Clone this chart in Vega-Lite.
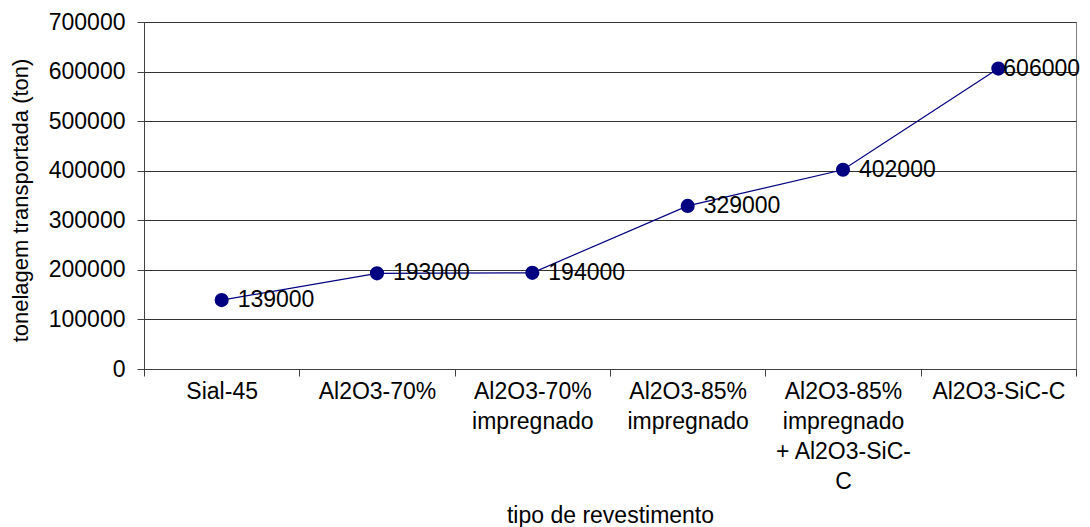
{
  "$schema": "https://vega.github.io/schema/vega-lite/v6.json",
  "autosize": "none",
  "width": 932,
  "height": 347,
  "padding": {"left": 144, "top": 22, "right": 14, "bottom": 158},
  "background": "white",
  "config": {
    "font": "Liberation Sans",
    "view": {"stroke": "#808080", "strokeWidth": 1}
  },
  "data": {
    "values": [
      {"tipo": "Sial-45", "ton": 139000},
      {"tipo": "Al2O3-70%", "ton": 193000},
      {"tipo": "Al2O3-70% impregnado", "ton": 194000},
      {"tipo": "Al2O3-85% impregnado", "ton": 329000},
      {"tipo": "Al2O3-85% impregnado + Al2O3-SiC-C", "ton": 402000},
      {"tipo": "Al2O3-SiC-C", "ton": 606000}
    ]
  },
  "encoding": {
    "x": {
      "field": "tipo",
      "type": "nominal",
      "sort": null,
      "scale": {"paddingInner": 0, "paddingOuter": 0},
      "axis": {
        "title": "tipo de revestimento",
        "titleFont": "Liberation Sans",
        "titleFontSize": 23,
        "titleFontWeight": "normal",
        "titleColor": "black",
        "titleBaseline": "alphabetic",
        "titleY": 153,
        "labelAngle": 0,
        "labelFont": "Liberation Sans",
        "labelFontSize": 23,
        "labelColor": "black",
        "labelBaseline": "alphabetic",
        "labelLineHeight": 30,
        "labelPadding": 22,
        "labelLimit": 0,
        "labelExpr": "!isValid(datum.value) ? '' : datum.value == 'Al2O3-85% impregnado + Al2O3-SiC-C' ? ['Al2O3-85%', 'impregnado', '+ Al2O3-SiC-', 'C'] : split(datum.value, ' ')",
        "tickBand": "extent",
        "ticks": true,
        "tickSize": 7,
        "tickColor": "#404040",
        "domainColor": "#404040",
        "grid": false
      }
    },
    "y": {
      "field": "ton",
      "type": "quantitative",
      "scale": {"domain": [0, 700000], "nice": false},
      "axis": {
        "title": "tonelagem transportada (ton)",
        "titleFont": "Liberation Sans",
        "titleFontSize": 22,
        "titleFontWeight": "normal",
        "titleColor": "black",
        "titleAngle": -90,
        "titleAlign": "center",
        "titleBaseline": "alphabetic",
        "titleX": -117,
        "titleY": 178,
        "values": [0, 100000, 200000, 300000, 400000, 500000, 600000, 700000],
        "format": "d",
        "labelFont": "Liberation Sans",
        "labelFontSize": 23,
        "labelColor": "black",
        "labelPadding": 12,
        "tickSize": 7,
        "tickColor": "#404040",
        "domainColor": "#404040",
        "grid": true,
        "gridColor": "#333333",
        "gridWidth": 1
      }
    }
  },
  "layer": [
    {
      "mark": {"type": "line", "color": "#000080", "strokeWidth": 1.2}
    },
    {
      "mark": {"type": "point", "filled": true, "color": "#000080", "opacity": 1, "size": 200, "shape": "circle"}
    },
    {
      "transform": [{"filter": "datum.tipo != 'Al2O3-SiC-C'"}],
      "mark": {"type": "text", "align": "left", "baseline": "middle", "dx": 16, "font": "Liberation Sans", "fontSize": 23, "color": "black"},
      "encoding": {"text": {"field": "ton", "type": "quantitative", "format": "d"}}
    },
    {
      "transform": [{"filter": "datum.tipo == 'Al2O3-SiC-C'"}],
      "mark": {"type": "text", "align": "left", "baseline": "middle", "dx": 5, "font": "Liberation Sans", "fontSize": 23, "color": "black"},
      "encoding": {"text": {"field": "ton", "type": "quantitative", "format": "d"}}
    }
  ]
}
